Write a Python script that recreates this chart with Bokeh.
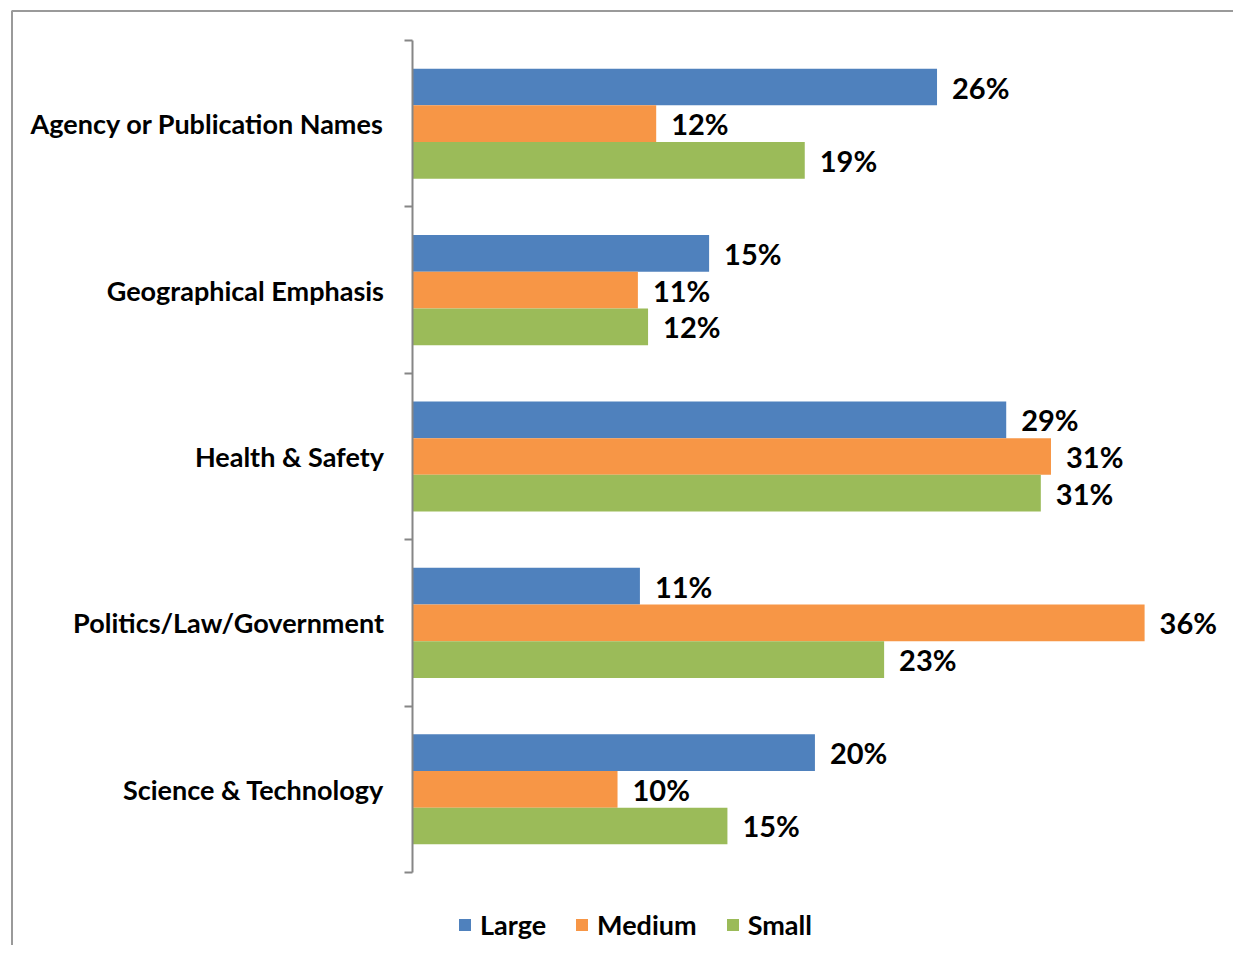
import numpy as np
from bokeh.plotting import figure
from bokeh.models import (ColumnDataSource, Range1d, LinearAxis, FixedTicker,
                          Legend, LegendItem, BoxAnnotation)
from bokeh.core.properties import value
from bokeh.embed import file_html
from bokeh.resources import INLINE

# ---- data ----
categories = ["Agency or Publication Names", "Geographical Emphasis",
              "Health & Safety", "Politics/Law/Government", "Science & Technology"]
series = ["Large", "Medium", "Small"]
large = [25.8, 14.6, 29.2, 11.2, 19.8]
medium = [12.0, 11.1, 31.4, 36.0, 10.1]
small = [19.3, 11.6, 30.9, 23.2, 15.5]
large_labels = ["26%", "15%", "29%", "11%", "20%"]
medium_labels = ["12%", "11%", "31%", "36%", "10%"]
small_labels = ["19%", "12%", "31%", "23%", "15%"]
colors = ["#4F81BD", "#F79646", "#9BBB59"]

FONT = "Lato"
W, H = 1233, 945
px_per_unit = 20.35          # pixels per percent
zero_px = 411.5              # x of zero within canvas
band_px = 166.4              # pixels per category
top_px = 40                  # top of category axis within canvas

x0 = -zero_px / px_per_unit
x1 = (W - zero_px) / px_per_unit
y_top = -top_px / band_px
y_bot = (H - top_px) / band_px

p = figure(width=W, height=H, output_backend="svg", toolbar_location=None,
           x_range=Range1d(x0, x1), y_range=Range1d(y_bot, y_top),
           x_axis_type=None, y_axis_type=None,
           min_border_left=0, min_border_right=0, min_border_top=0, min_border_bottom=0)
p.outline_line_color = None
p.background_fill_color = "white"
p.border_fill_color = "white"

bar_h = 0.2205
offsets = [-bar_h, 0.0, bar_h]
centers = np.arange(len(categories)) + 0.5

renderers = []
for vals, labs, off, col, name in zip([large, medium, small],
                                       [large_labels, medium_labels, small_labels],
                                       offsets, colors, series):
    src = ColumnDataSource(dict(y=centers + off, v=vals, lab=labs))
    r = p.hbar(y="y", left=0, right="v", height=bar_h, source=src,
               fill_color=col, line_color=None)
    renderers.append(r)
    p.text(x="v", y="y", text="lab", source=src, x_offset=15,
           text_font=value(FONT), text_font_style="bold", text_font_size="29px",
           text_color="black", text_baseline="middle", text_align="left")

# axis with ticks on category boundaries
ax = LinearAxis(ticker=FixedTicker(ticks=list(range(len(categories) + 1))),
                major_label_overrides={i: "" for i in range(len(categories) + 1)},
                fixed_location=0, bounds=(0, len(categories)))
ax.axis_line_color = "#868686"
ax.axis_line_width = 2
ax.major_tick_line_color = "#868686"
ax.major_tick_line_width = 2
ax.major_tick_out = 8
ax.major_tick_in = 0
ax.minor_tick_line_color = None
ax.major_label_text_font_size = "1px"
p.add_layout(ax, "left")

# category labels at band centers
lab_ax = LinearAxis(ticker=FixedTicker(ticks=list(centers)),
                    major_label_overrides={float(c): cat for c, cat in zip(centers, categories)},
                    fixed_location=0)
lab_ax.axis_line_color = None
lab_ax.major_tick_line_color = None
lab_ax.minor_tick_line_color = None
lab_ax.major_tick_out = 0
lab_ax.major_tick_in = 0
lab_ax.major_label_standoff = 28
lab_ax.major_label_text_font = FONT
lab_ax.major_label_text_font_style = "bold"
lab_ax.major_label_text_font_size = "27px"
lab_ax.major_label_text_color = "black"
p.add_layout(lab_ax, "left")

# chart border (only left and top edges fall inside the picture)
p.add_layout(BoxAnnotation(left=(11.5 - zero_px) / px_per_unit, right=x1 + 50,
                           top=(10.5 - top_px) / band_px, bottom=y_bot + 5,
                           fill_alpha=0, line_color="#9a9a9a", line_alpha=1.0,
                           line_width=2))

legend = Legend(items=[LegendItem(label=s, renderers=[r]) for s, r in zip(series, renderers)],
                orientation="horizontal", location=(457, 4))
legend.glyph_width = 15
legend.glyph_height = 15
legend.label_standoff = 8
legend.spacing = 28
legend.padding = 0
legend.margin = 0
legend.border_line_color = None
legend.background_fill_alpha = 0
legend.label_text_font = FONT
legend.label_text_font_style = "bold"
legend.label_text_font_size = "27px"
legend.label_text_color = "black"
p.add_layout(legend, "center")

open("out.html", "w").write(file_html(p, INLINE))
